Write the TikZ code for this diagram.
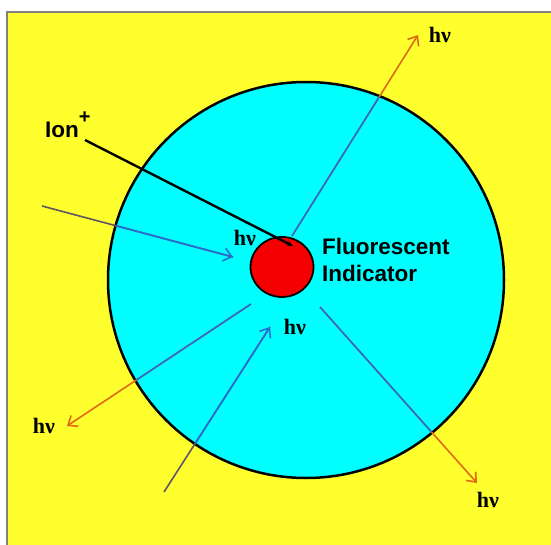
\documentclass[tikz,border=0pt]{standalone}
\usepackage{fontspec}
\setmainfont{Liberation Sans}
\newfontfamily\hvfont{Liberation Serif}
\usetikzlibrary{arrows.meta,shapes.geometric}

\definecolor{bgyellow}{RGB}{255,255,45}
\definecolor{cellcyan}{RGB}{0,255,255}
\definecolor{indred}{RGB}{245,0,0}
\definecolor{photonblue}{RGB}{35,110,215}
\definecolor{photonorange}{RGB}{225,105,20}
\definecolor{raygray}{RGB}{95,85,100}

\begin{document}
\begin{tikzpicture}[x=1pt,y=-1pt,>={Straight Barb[length=8pt,width=13pt]},
    ray/.style={line width=1.6pt},
    hv/.style={font=\fontsize{22}{24}\selectfont\hvfont\bfseries,inner sep=0pt},
    label/.style={font=\fontsize{22.5}{27}\selectfont\bfseries,inner sep=0pt}]
    \useasboundingbox (0,0) rectangle (551,545);

    % Background
    \fill[white] (0,0) rectangle (551,545);
    \fill[bgyellow] (7,12) rectangle (551,545);
    \draw[gray,line width=2pt] (7,545) -- (7,12) -- (551,12);

    % Cell
    \node[circle,draw,fill=cellcyan,line width=2.5pt,minimum size=396pt,inner sep=0pt] (cell) at (306,280) {};

    % End points of the rays
    \coordinate (upin) at (292,236);   \coordinate (uptip) at (418,35);
    \coordinate (leftin) at (42,206);  \coordinate (lefttip) at (233,257);
    \coordinate (llin) at (251,304);   \coordinate (lltip) at (67,426);
    \coordinate (botin) at (164,492);  \coordinate (bottip) at (270,327);
    \coordinate (lrin) at (320,307);   \coordinate (lrtip) at (477,483);

    % Rays outside the cell
    \draw[ray,photonorange,->] (upin) -- (uptip);
    \draw[ray,photonorange,->] (llin) -- (lltip);
    \draw[ray,photonorange,->] (lrin) -- (lrtip);
    \draw[ray,raygray] (leftin) -- (lefttip);
    \draw[ray,raygray] (botin) -- (bottip);

    % Rays inside the cell
    \begin{scope}
        \clip (cell.center) circle[radius=197pt];
        \draw[ray,photonblue] (upin) -- (uptip);
        \draw[ray,photonblue] (llin) -- (lltip);
        \draw[ray,photonblue] (lrin) -- (lrtip);
        \draw[ray,photonblue,->] (leftin) -- (lefttip);
        \draw[ray,photonblue,->] (botin) -- (bottip);
    \end{scope}

    % Indicator
    \node[ellipse,draw,fill=indred,line width=1.8pt,minimum width=63pt,minimum height=60pt,inner sep=0pt] (ind) at (282,267) {};
    \node[label,anchor=north west,align=left] (fluor) at (322,238) {Fluorescent\\Indicator};

    % Ion
    \node[label,anchor=base west] (ion) at (45,138) {Ion\raisebox{14pt}{\fontsize{20}{20}\selectfont +}};
    \coordinate (ionstart) at (85,140);
    \coordinate (ionend) at (293,246);
    \draw[line width=2.4pt,-{Stealth[length=6pt,width=5pt]}] (ionstart) -- (ionend);

    % Labels
    \node[hv] (hvup) at (440,35) {hν};
    \node[hv] (hvleft) at (245,238) {hν};
    \node[hv] (hvll) at (44,426) {hν};
    \node[hv] (hvbot) at (295,327) {hν};
    \node[hv] (hvlr) at (488,500) {hν};
\end{tikzpicture}
\end{document}
